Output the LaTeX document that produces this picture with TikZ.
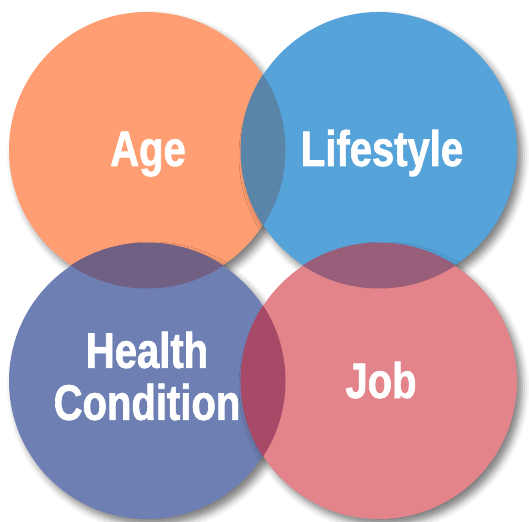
\documentclass[tikz,border=0pt]{standalone}
\usepackage{fontspec}
\setmainfont[FakeStretch=0.8, BoldFeatures={FakeBold=1.3}]{Liberation Sans}
\usetikzlibrary{shadows.blur}
\definecolor{agecol}{HTML}{FE9E72}
\definecolor{lifecol}{HTML}{56A3D9}
\definecolor{healthcol}{HTML}{6E80B3}
\definecolor{jobcol}{HTML}{E3848A}
\definecolor{agelife}{HTML}{5A84A8}
\definecolor{agehealth}{HTML}{706084}
\definecolor{lifejob}{HTML}{985E7A}
\definecolor{healthjob}{HTML}{A64A68}
\tikzset{
  bubble/.style = {blur shadow={shadow xshift=5pt, shadow yshift=-6pt,
                   shadow blur radius=7pt, shadow opacity=50}},
  word/.style   = {text=white, font=\bfseries\fontsize{50}{52}\selectfont,
                   inner sep=0pt}
}
\begin{document}
\begin{tikzpicture}[x=1pt, y=1pt]
        \useasboundingbox (0,0) rectangle (529,521);
        \coordinate (age)    at (147,371);
        \coordinate (life)   at (379,371);
        \coordinate (health) at (147,140);
        \coordinate (job)    at (379,140);
        \def\rad{138}
        \fill[agecol,bubble]    (age)    circle (\rad);
        \fill[lifecol,bubble]   (life)   circle (\rad);
        \fill[healthcol,bubble] (health) circle (\rad);
        \fill[jobcol,bubble]    (job)    circle (\rad);
        % overlaps
        \begin{scope}
          \clip (age) circle (\rad+0.5);
          \fill[agelife]   (life)   circle (\rad+0.5);
          \fill[agehealth] (health) circle (\rad+0.5);
        \end{scope}
        \begin{scope}
          \clip (job) circle (\rad+0.5);
          \fill[lifejob]   (life)   circle (\rad+0.5);
          \fill[healthjob] (health) circle (\rad+0.5);
        \end{scope}
        \node[word, anchor = base] (agetext)    at (148,355) {Age};
        \node[word, anchor = base] (lifetext)   at (382,355) {Lifestyle};
        \node[word, align = center] (healthtext) at (147,145) {Health\\Condition};
        \node[word, anchor = base] (jobtext)    at (381,123) {Job};
      \end{tikzpicture}
\end{document}
